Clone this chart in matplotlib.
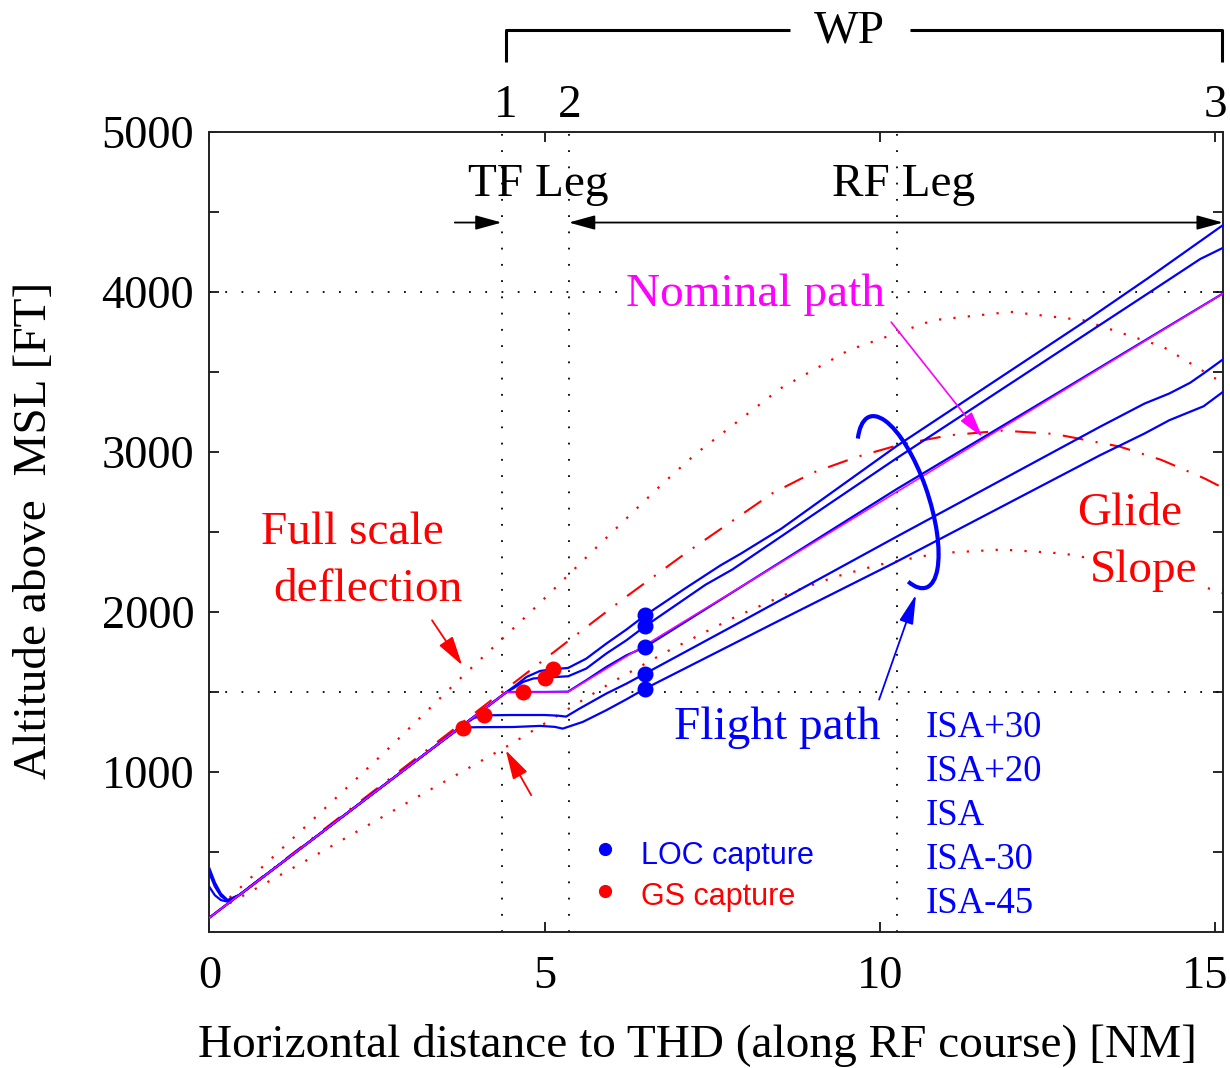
"""Altitude profiles of the RF-leg approach for several temperatures, with GS/LOC capture points."""
import numpy as np
import matplotlib
matplotlib.use("Agg")
import matplotlib.pyplot as plt
from matplotlib.patches import Arc
from matplotlib.transforms import ScaledTranslation

plt.rcParams["font.family"] = "Liberation Serif"

# --- data (NM to threshold, ft MSL) -----------------------------------------
gs_x = [0, 2.0, 4.0, 5.4, 6.2, 7.1, 8.4, 9.0, 9.66, 10.3, 11.04, 11.83, 12.61, 13.58, 14.2, 14.84, 15.12]
gs_y = [90, 736, 1382, 1834, 2090, 2366, 2742, 2870, 2969, 3045, 3104, 3133, 3112, 3033, 2950, 2835, 2775]

fsd_up_x = [0.3, 1.17, 2.63, 3.78, 4.78, 5.74, 6.73, 7.26, 8.52, 9.54, 10.8, 11.95, 13.03, 14.23, 15.12]
fsd_up_y = [215, 556, 1130, 1600, 1995, 2390, 2790, 2990, 3397, 3636, 3823, 3875, 3823, 3656, 3430]

fsd_lo_x = [0.3, 1.5, 3.0, 4.5, 6.0, 6.84, 7.8, 8.6, 9.33, 10.0, 10.66, 11.11, 11.83, 12.74, 13.6, 14.4, 15.12]
fsd_lo_y = [180, 460, 820, 1175, 1560, 1756, 1960, 2110, 2219, 2296, 2350, 2373, 2390, 2365, 2300, 2215, 2118]

nominal_x = [0, 4.43, 5.35, 15.12]
nominal_y = [90, 1499, 1500, 3990]

isa_p30_x = [0, 0.08, 0.17, 0.27, 0.45, 2.0, 3.4, 4.2, 4.46, 4.58, 4.73, 4.93, 5.12, 5.35, 5.62, 5.92, 6.22, 6.5,
             7.1, 7.62, 7.93, 8.53, 10.25, 13.06, 14.0, 15.12]
isa_p30_y = [397, 310, 240, 200, 233, 726, 1171, 1426, 1508, 1545, 1594, 1631, 1642, 1650, 1708, 1802, 1890, 1979,
             2148, 2290, 2365, 2520, 3036, 3815, 4085, 4417]

isa_p20_x = [0, 0.08, 0.17, 0.27, 0.45, 2.0, 3.4, 4.2, 4.45, 4.53, 4.68, 4.83, 5.0, 5.35, 5.62, 5.92, 6.22, 6.5,
             7.4, 7.8, 10.25, 14.0, 14.78, 15.12]
isa_p20_y = [366, 285, 225, 195, 233, 726, 1171, 1426, 1505, 1522, 1563, 1584, 1590, 1598, 1646, 1740, 1823, 1911,
             2170, 2265, 2960, 3990, 4205, 4275]

isa_x = [0, 0.08, 0.17, 0.27, 0.45, 2.0, 3.4, 4.43, 4.67, 5.0, 5.35, 5.62, 5.92, 6.22, 6.5, 8.4, 10.25, 12.7, 15.12]
isa_y = [281, 230, 200, 190, 233, 726, 1171, 1499, 1500, 1500, 1502, 1573, 1656, 1729, 1781, 2280, 2767, 3380, 3990]

isa_m30_x = [0, 2.0, 3.4, 3.75, 3.95, 4.11, 4.5, 5.0, 5.2, 5.32, 5.52, 5.92, 6.22, 6.5, 8.0, 10.25, 13.29, 13.95,
             14.32, 14.63, 14.83, 15.12]
isa_m30_y = [90, 726, 1171, 1283, 1338, 1354, 1356, 1356, 1352, 1346, 1396, 1490, 1552, 1615, 1955, 2470, 3158, 3302,
             3365, 3432, 3490, 3578]

isa_m45_x = [0, 2.0, 3.4, 3.72, 3.79, 4.0, 4.53, 4.93, 5.15, 5.27, 5.57, 5.92, 6.22, 6.5, 8.4, 10.25, 13.29, 13.95,
             14.32, 14.83, 15.12]
isa_m45_y = [90, 726, 1171, 1270, 1278, 1280, 1281, 1288, 1282, 1271, 1313, 1386, 1454, 1521, 1925, 2314, 2980, 3115,
             3198, 3285, 3375]

loc_cap_x = [6.5, 6.5, 6.5, 6.5, 6.5]
loc_cap_y = [1979, 1911, 1781, 1615, 1521]
gs_cap_x = [5.12, 5.00, 4.67, 4.10, 3.78]
gs_cap_y = [1642, 1590, 1500, 1354, 1275]

isa_labels = ["ISA+30", "ISA+20", "ISA", "ISA-30", "ISA-45"]
wp_x = [4.42, 5.38, 15.0]
wp_labels = ["1", "2", "3"]
x_ticks = [0, 5, 10, 15]
leg_bounds = [4.36, 5.36, 10.25]   # vertical dotted guide lines
alt_guides = [1500, 4000]           # horizontal dotted guide lines

FS = 34
BLUE = "#0000ff"
RED = "#ff0000"
MAG = "#ff00ff"
DOT = (0, (1, 8))

fig = plt.figure(figsize=(12.3, 10.68), dpi=100)
ax = fig.add_axes([0.1703, 0.1273, 0.8240, 0.7493])

# guides
for xv in leg_bounds:
    ax.axvline(xv, color="k", lw=1.3, ls=DOT, zorder=1)
for yv in alt_guides:
    ax.axhline(yv, color="k", lw=1.3, ls=DOT, zorder=1)

# glide slope and full scale deflection
ax.plot(gs_x, gs_y, color=RED, lw=1.5, ls=(0, (10, 6, 1, 6)), zorder=2)
ax.plot(fsd_up_x, fsd_up_y, color=RED, lw=1.6, ls=(0, (1, 5.5)), zorder=2)
ax.plot(fsd_lo_x, fsd_lo_y, color=RED, lw=1.6, ls=(0, (1, 5.5)), zorder=2)

# flight paths
for fx, fy in [(isa_p30_x, isa_p30_y), (isa_p20_x, isa_p20_y), (isa_x, isa_y),
               (isa_m30_x, isa_m30_y), (isa_m45_x, isa_m45_y)]:
    ax.plot(fx, fy, color=BLUE, lw=1.6, zorder=3)
ax.plot(nominal_x, nominal_y, color=MAG, lw=1.1, zorder=4)

ax.plot(loc_cap_x, loc_cap_y, "o", color=BLUE, ms=10.5, zorder=5)
ax.plot(gs_cap_x, gs_cap_y, "o", color=RED, ms=10.5, zorder=5)

# legend (hand made)
ax.plot([5.90], [521], "o", color=BLUE, ms=8.5, zorder=5)
ax.plot([5.90], [256], "o", color=RED, ms=8.5, zorder=5)
ax.text(6.44, 427, "LOC capture", color=BLUE, fontsize=22, family="Liberation Sans", va="baseline")
ax.text(6.44, 167, "GS capture", color=RED, fontsize=22, family="Liberation Sans", va="baseline")

# temperature labels
for i, lab in enumerate(isa_labels):
    ax.text(10.69, 1219 - i * 275, lab, color=BLUE, fontsize=26.5, va="baseline")

# annotations
white = dict(facecolor="white", edgecolor="none", pad=1)
ax.text(8.14, 3911, "Nominal path", color=MAG, fontsize=FS, ha="center", va="baseline", bbox=white, zorder=6)
ax.annotate("", xy=(11.53, 3093), xytext=(10.17, 3811),
            arrowprops=dict(arrowstyle="-|>,head_length=0.8,head_width=0.22", color=MAG, lw=1.2,
                            mutation_scale=20, shrinkA=0, shrinkB=0), zorder=6)

ax.text(13.73, 2542, "Glide", color=RED, fontsize=FS, ha="center", va="baseline", bbox=white, zorder=6)
ax.text(13.93, 2188, "Slope", color=RED, fontsize=FS, ha="center", va="baseline", bbox=white, zorder=6)

ax.text(2.13, 2427, "Full scale", color=RED, fontsize=FS, ha="center", va="baseline")
ax.text(2.37, 2069, "deflection", color=RED, fontsize=FS, ha="center", va="baseline")
for tail, tip in [((3.32, 1948), (3.77, 1667)), ((4.80, 855), (4.42, 1136))]:
    ax.annotate("", xy=tip, xytext=tail,
                arrowprops=dict(arrowstyle="-|>,head_length=0.9,head_width=0.25", color=RED, lw=1.3,
                                mutation_scale=20, shrinkA=0, shrinkB=0))

ax.text(8.47, 1209, "Flight path", color=BLUE, fontsize=FS, ha="center", va="baseline")
ax.annotate("", xy=(10.54, 2108), xytext=(9.99, 1452),
            arrowprops=dict(arrowstyle="-|>,head_length=0.9,head_width=0.22", color=BLUE, lw=1.3,
                            mutation_scale=20, shrinkA=0, shrinkB=0))
arc_trans = fig.dpi_scale_trans + ScaledTranslation(10.27, 2686, ax.transData)
ax.add_patch(Arc((0, 0), 1.8, 0.62, angle=-71.8, theta1=-10.8, theta2=194,
                 color=BLUE, lw=3.0, transform=arc_trans, zorder=6))

# leg labels and arrows
ax.text(4.90, 4598, "TF Leg", fontsize=FS, ha="center", va="baseline")
ax.text(10.35, 4598, "RF Leg", fontsize=FS, ha="center", va="baseline")
head = "-|>,head_length=0.8,head_width=0.22"
ax.annotate("", xy=(4.36, 4433), xytext=(3.66, 4433),
            arrowprops=dict(arrowstyle=head, color="k", lw=1.3, mutation_scale=20, shrinkA=0, shrinkB=0))
ax.annotate("", xy=(15.12, 4433), xytext=(5.36, 4433),
            arrowprops=dict(arrowstyle="<|-|>,head_length=0.8,head_width=0.22", color="k", lw=1.3,
                            mutation_scale=20, shrinkA=0, shrinkB=0), annotation_clip=False)

# waypoint bracket above the axes
for xv, lab in zip(wp_x, wp_labels):
    ax.text(xv, 5092, lab, fontsize=FS, ha="center", va="baseline", clip_on=False)
ax.plot([4.42, 4.42, 8.66], [5436, 5636, 5636], color="k", lw=2.2, clip_on=False, solid_capstyle="butt")
ax.plot([10.45, 15.10, 15.10], [5636, 5636, 5436], color="k", lw=2.2, clip_on=False, solid_capstyle="butt")
ax.text(9.55, 5556, "WP", fontsize=FS, ha="center", va="baseline", clip_on=False)

# axes
ax.set_xlim(0, 15.12)
ax.set_ylim(0, 5000)
ax.set_xticks(x_ticks)
# the last label is placed by hand, a little left of its tick, so it stays on the page
ax.set_xticklabels([str(v) for v in x_ticks[:-1]] + [""])
ax.text(14.86, -352, str(x_ticks[-1]), fontsize=33.5, ha="center", va="baseline", clip_on=False)
ax.set_yticks(np.arange(500, 5001, 500))
ax.set_yticklabels([str(v) if v % 1000 == 0 else "" for v in range(500, 5001, 500)])
ax.tick_params(direction="in", top=True, right=True, length=7.5, width=1.2, labelsize=33.5)
ax.tick_params(axis="x", pad=17)
ax.tick_params(axis="y", pad=11)
for sp in ax.spines.values():
    sp.set_linewidth(1.4)
    sp.set_color("#222222")

fig.text(0.567, 0.0215, "Horizontal distance to THD (along RF course) [NM]", fontsize=FS,
         ha="center", va="center")
fig.text(0.0285, 0.503, "Altitude above  MSL [FT]", fontsize=FS, rotation=90, ha="center", va="center")

fig.savefig("out.png", dpi=100)
